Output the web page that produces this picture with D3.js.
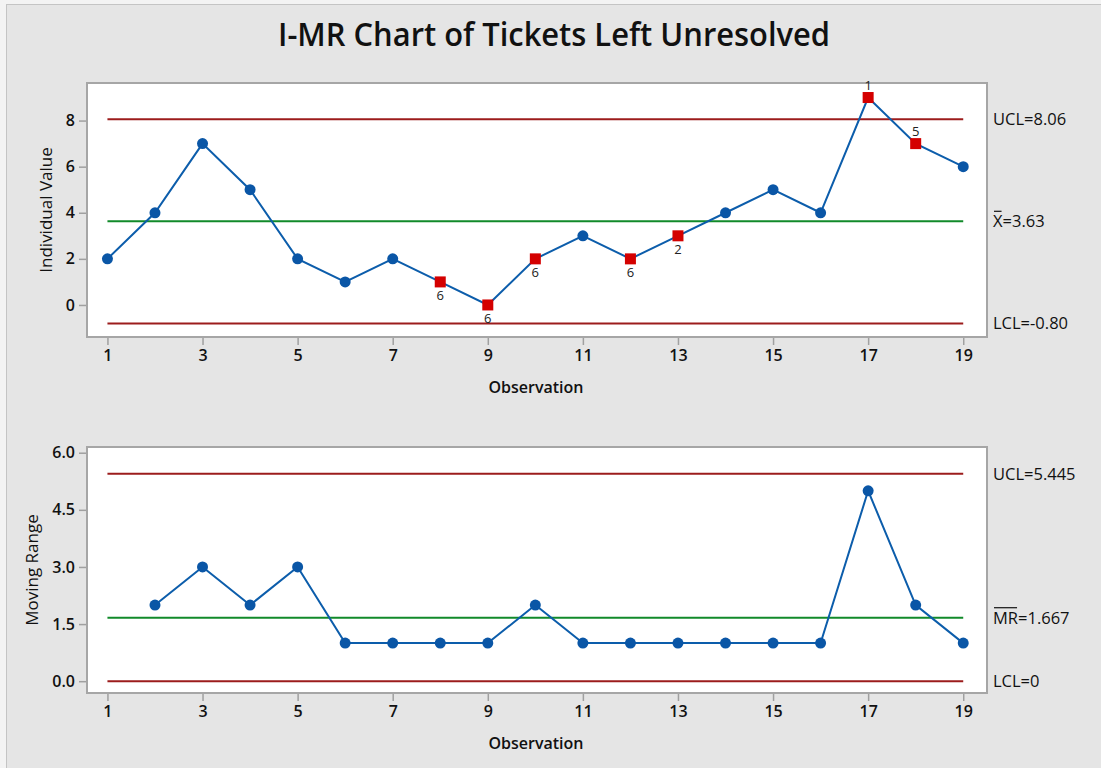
<!DOCTYPE html>
<html>
<head>
<meta charset="utf-8">
<style>
    body { margin: 0; background: #f3f3f3; }
    svg { display: block; font-family: 'Open Sans', 'Noto Sans', sans-serif; }
    .tick line { stroke: #a0a0a0; stroke-width: 1.5px; }
    .tick text { fill: #111; font-size: 16px; font-weight: 600; font-family: 'Open Sans', 'Noto Sans', sans-serif; }
    .domain { display: none; }
    .lbl { font-size: 16.5px; fill: #111; }
</style>
</head>
<body>
<div id="chart"></div>
<script src="https://d3js.org/d3.v7.min.js"></script>
<script>
// observations 1..19
var obs = d3.range(1, 20);
var indiv = [2, 4, 7, 5, 2, 1, 2, 1, 0, 2, 3, 2, 3, 4, 5, 4, 9, 7, 6];
// moving ranges start at observation 2
var mrObs = d3.range(2, 20);
var mr = [2, 3, 2, 3, 1, 1, 1, 1, 2, 1, 1, 1, 1, 1, 1, 5, 2, 1];

var iLimits = {ucl: 8.06, center: 3.63, lcl: -0.80};
var mrLimits = {ucl: 5.445, center: 1.667, lcl: 0};

// tests failed (observation -> test number shown next to the point)
var iFlags = [
    {obs: 8, label: "6", pos: "below"},
    {obs: 9, label: "6", pos: "below"},
    {obs: 10, label: "6", pos: "below"},
    {obs: 12, label: "6", pos: "below"},
    {obs: 13, label: "2", pos: "below"},
    {obs: 17, label: "1", pos: "above"},
    {obs: 18, label: "5", pos: "above"}
];

var xTicks = [1, 3, 5, 7, 9, 11, 13, 15, 17, 19];
var iTicks = [0, 2, 4, 6, 8];
var mrTicks = [0, 1.5, 3.0, 4.5, 6.0];

var W = 1101, H = 768;
var svg = d3.select("#chart").append("svg").attr("width", W).attr("height", H);

svg.append("rect").attr("x", 6.5).attr("y", 4.5).attr("width", W - 6).attr("height", H - 4)
    .attr("fill", "#e5e5e5").attr("stroke", "#c4c4c4").attr("stroke-width", 1);

svg.append("text")
    .attr("x", 554).attr("y", 46)
    .attr("text-anchor", "middle")
    .attr("font-size", 32).attr("font-weight", 600)
    .attr("textLength", 552).attr("lengthAdjust", "spacingAndGlyphs")
    .attr("fill", "#111")
    .text("I-MR Chart of Tickets Left Unresolved");

var box = {left: 87, right: 987};

function panel(cfg) {
    var x = d3.scaleLinear().domain([0.57, 19.5]).range([box.left, box.right]);
    var y = d3.scaleLinear().domain(cfg.ydomain).range([cfg.bottom, cfg.top]);
    var g = svg.append("g");

    g.append("rect")
        .attr("x", box.left).attr("y", cfg.top)
        .attr("width", box.right - box.left).attr("height", cfg.bottom - cfg.top)
        .attr("fill", "#fff").attr("stroke", "#a6a6a6").attr("stroke-width", 2);

    g.append("g").attr("transform", "translate(" + (box.left - 1) + ",0)")
        .call(d3.axisLeft(y).tickValues(cfg.ticks).tickSize(7).tickPadding(4).tickFormat(cfg.fmt))
        .attr("font-size", null).attr("font-family", null);

    g.append("g").attr("transform", "translate(0," + (cfg.bottom + 1) + ")")
        .call(d3.axisBottom(x).tickValues(xTicks).tickSize(7).tickPadding(5).tickFormat(d3.format("d")))
        .attr("font-size", null).attr("font-family", null);

    g.append("text")
        .attr("transform", "translate(" + cfg.ylabX + "," + ((cfg.top + cfg.bottom) / 2) + ") rotate(-90)")
        .attr("text-anchor", "middle").attr("font-size", 17).attr("fill", "#111")
        .text(cfg.ylabel);

    g.append("text")
        .attr("x", 536).attr("y", cfg.bottom + 56)
        .attr("text-anchor", "middle").attr("font-size", 16).attr("font-weight", 600).attr("fill", "#111")
        .text("Observation");

    var lims = [
        {v: cfg.limits.ucl, c: "#9c1c1c"},
        {v: cfg.limits.center, c: "#118a2a"},
        {v: cfg.limits.lcl, c: "#9c1c1c"}
    ];
    g.selectAll(".lim").data(lims).enter().append("line")
        .attr("x1", x(1)).attr("x2", x(19))
        .attr("y1", function(d) { return y(d.v); })
        .attr("y2", function(d) { return y(d.v); })
        .attr("stroke", function(d) { return d.c; }).attr("stroke-width", 2);

    var pts = cfg.xs.map(function(o, i) { return {obs: o, v: cfg.vals[i]}; });
    g.append("path").datum(pts)
        .attr("fill", "none").attr("stroke", "#0c5dab").attr("stroke-width", 2)
        .attr("d", d3.line().x(function(d) { return x(d.obs); }).y(function(d) { return y(d.v); }));

    var flagged = {};
    cfg.flags.forEach(function(f) { flagged[f.obs] = f; });

    g.selectAll(".pt").data(pts.filter(function(d) { return !flagged[d.obs]; })).enter().append("circle")
        .attr("cx", function(d) { return x(d.obs); })
        .attr("cy", function(d) { return y(d.v); })
        .attr("r", 5.5).attr("fill", "#0a56a6");

    var fl = pts.filter(function(d) { return flagged[d.obs]; });
    g.selectAll(".sq").data(fl).enter().append("rect")
        .attr("x", function(d) { return x(d.obs) - 5.5; })
        .attr("y", function(d) { return y(d.v) - 5.5; })
        .attr("width", 11).attr("height", 11).attr("fill", "#d40000");
    g.selectAll(".fl").data(fl).enter().append("text")
        .attr("x", function(d) { return x(d.obs); })
        .attr("y", function(d) { return flagged[d.obs].pos === "below" ? y(d.v) + 18 : y(d.v) - 8; })
        .attr("text-anchor", "middle").attr("font-size", 13).attr("fill", "#222")
        .text(function(d) { return flagged[d.obs].label; });

    // right-side limit labels
    cfg.rlabels.forEach(function(r) {
        var t = g.append("text").attr("class", "lbl")
            .attr("x", 993).attr("y", y(r.v)).attr("dy", "0.36em")
            .text(r.text);
        if (r.bar) {
            var w = t.node().getSubStringLength(0, r.bar);
            g.append("line")
                .attr("x1", 994).attr("x2", 993 + w - 1)
                .attr("y1", y(r.v) - 10).attr("y2", y(r.v) - 10)
                .attr("stroke", "#111").attr("stroke-width", 1.2);
        }
    });
}

panel({
    top: 83, bottom: 337, ydomain: [-1.39, 9.63],
    ticks: iTicks, fmt: d3.format("d"),
    ylabel: "Individual Value", ylabX: 52,
    limits: iLimits, xs: obs, vals: indiv, flags: iFlags,
    rlabels: [
        {v: iLimits.ucl, text: "UCL=8.06"},
        {v: iLimits.center, text: "X=3.63", bar: 1},
        {v: iLimits.lcl, text: "LCL=-0.80"}
    ]
});

panel({
    top: 447, bottom: 693, ydomain: [-0.31, 6.15],
    ticks: mrTicks, fmt: d3.format(".1f"),
    ylabel: "Moving Range", ylabX: 38,
    limits: mrLimits, xs: mrObs, vals: mr, flags: [],
    rlabels: [
        {v: mrLimits.ucl, text: "UCL=5.445"},
        {v: mrLimits.center, text: "MR=1.667", bar: 2},
        {v: mrLimits.lcl, text: "LCL=0"}
    ]
});
</script>
</body>
</html>
